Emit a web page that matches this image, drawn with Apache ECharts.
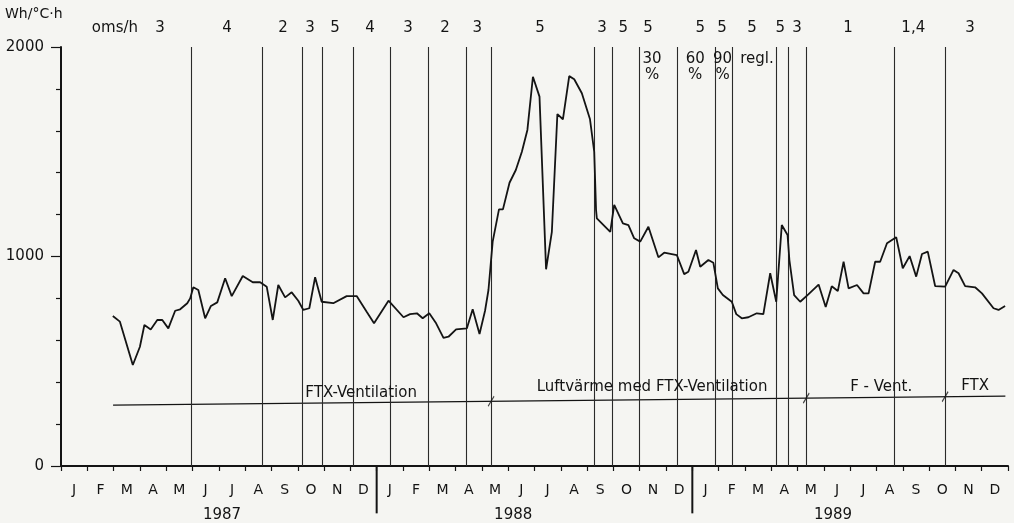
<!DOCTYPE html>
<html>
<head>
<meta charset="utf-8">
<title>Wh/°C·h 1987–1989</title>
<script src="https://cdn.jsdelivr.net/npm/echarts@6/dist/echarts.min.js"></script>
<style>
  html, body { margin: 0; padding: 0; background: #f5f5f2; }
  #chart { width: 1014px; height: 523px; }
</style>
</head>
<body>
<div id="chart"></div>
<script>
// Time axis runs in months from Jan 1987 (0) to end of Dec 1989 (36).
const monthLetters = ['J', 'F', 'M', 'A', 'M', 'J', 'J', 'A', 'S', 'O', 'N', 'D'];
const years = ['1987', '1988', '1989'];
const yearLabelMonths = [6.12, 17.19, 29.35];
const yearDividerMonths = [12, 24];

// Specific heat loss, Wh/°C·h, roughly weekly readings
const readingMonths = [
  1.97, 2.24, 2.73, 3.00, 3.17, 3.41, 3.66, 3.85, 4.08, 4.34,
  4.53, 4.80, 4.91, 5.03, 5.22, 5.48, 5.70, 5.94, 6.24, 6.49,
  6.91, 7.29, 7.57, 7.82, 8.05, 8.26, 8.52, 8.77, 9.02, 9.21,
  9.44, 9.66, 9.91, 10.35, 10.86, 11.24, 11.62, 11.90, 12.45, 13.02,
  13.27, 13.53, 13.75, 14.00, 14.26, 14.54, 14.73, 15.02, 15.43, 15.65,
  15.91, 16.12, 16.25, 16.41, 16.65, 16.80, 17.05, 17.29, 17.52, 17.73,
  17.94, 18.19, 18.44, 18.66, 18.87, 19.08, 19.32, 19.51, 19.80, 20.11,
  20.27, 20.34, 20.37, 20.88, 21.03, 21.36, 21.57, 21.79, 22.02, 22.33,
  22.71, 22.93, 23.41, 23.69, 23.85, 24.14, 24.30, 24.61, 24.80, 24.97,
  25.16, 25.50, 25.67, 25.88, 26.13, 26.45, 26.70, 26.96, 27.19, 27.40,
  27.62, 27.69, 27.87, 28.10, 28.41, 28.80, 29.07, 29.30, 29.53, 29.75,
  29.94, 30.26, 30.51, 30.70, 30.95, 31.14, 31.40, 31.75, 32.00, 32.26,
  32.51, 32.73, 32.95, 33.23, 33.61, 33.93, 34.12, 34.37, 34.75, 35.01,
  35.45, 35.64, 35.89
];
const readingValues = [
  716, 689, 482, 569, 673, 652, 697, 697, 657, 741,
  748, 777, 800, 853, 840, 705, 764, 781, 896, 811,
  907, 877, 877, 856, 697, 864, 805, 829, 789, 745,
  753, 901, 784, 777, 811, 811, 736, 681, 789, 710,
  725, 729, 705, 729, 681, 612, 617, 652, 657, 748,
  630, 741, 840, 1071, 1225, 1225, 1352, 1413, 1500, 1604,
  1858, 1763, 939, 1118, 1680, 1655, 1861, 1846, 1779, 1655,
  1500, 1222, 1182, 1118, 1246, 1158, 1150, 1087, 1071, 1142,
  996, 1018, 1007, 916, 927, 1031, 951, 983, 970, 848,
  816, 784, 725, 705, 710, 729, 725, 920, 784, 1150,
  1103, 983, 816, 784, 819, 866, 759, 858, 835, 975,
  848, 864, 824, 824, 975, 975, 1063, 1092, 944, 1002,
  904, 1012, 1023, 859, 856, 936, 920, 859, 853, 824,
  753, 745, 764
];

// Moments where the air-change rate was changed
const changeMonths = [
  4.94, 7.64, 9.16, 9.92, 11.10, 12.51, 13.95, 15.40, 16.35, 20.27,
  20.95, 21.98, 23.42, 24.87, 25.51, 27.19, 27.64, 28.33, 31.67, 33.61
];

// Air changes per hour (oms/h) for each period
const rateLabels = ['oms/h', '3', '4', '2', '3', '5', '4', '3', '2', '3', '5',
  '3', '5', '5', '5', '5', '5', '5', '3', '1', '1,4', '3'];
const rateLabelMonths = [2.05, 3.76, 6.31, 8.44, 9.47, 10.42, 11.75, 13.19, 14.60, 15.82, 18.21,
  20.57, 21.37, 22.32, 24.30, 25.13, 26.27, 27.34, 27.98, 29.92, 32.40, 34.56];

// Control notes under the rates
const noteLabels = ['30', '%', '60', '%', '90', '%', 'regl.'];
const noteMonths = [22.47, 22.47, 24.11, 24.11, 25.15, 25.15, 26.46];
const noteValues = [1940, 1866, 1940, 1866, 1940, 1866, 1940];

// Ventilation system periods along the baseline
const systemLabels = ['FTX-Ventilation', 'Luftvärme med FTX-Ventilation', 'F - Vent.', 'FTX'];
const systemLabelMonths = [11.41, 22.47, 31.18, 34.75];
const systemLabelValues = [348, 377, 377, 380];
const systemLineMonths = [1.98, 35.9];
const systemLineValues = [291, 334];
const systemSwitchMonths = [16.35, 28.33, 33.61];

const ink = '#141414';
const font = 'DejaVu Sans';

function baselineAt(m) {
  const t = (m - systemLineMonths[0]) / (systemLineMonths[1] - systemLineMonths[0]);
  return systemLineValues[0] + t * (systemLineValues[1] - systemLineValues[0]);
}

const monthCategories = [];
years.forEach(() => monthLetters.forEach(l => monthCategories.push(l)));

const textPoints = [];
rateLabels.forEach((t, i) => textPoints.push({ value: [rateLabelMonths[i], 2091], name: t }));
noteLabels.forEach((t, i) => textPoints.push({ value: [noteMonths[i], noteValues[i]], name: t }));
systemLabels.forEach((t, i) => textPoints.push({ value: [systemLabelMonths[i], systemLabelValues[i]], name: t }));
years.forEach((t, i) => textPoints.push({ value: [yearLabelMonths[i], -236], name: t }));

const dividerSeries = yearDividerMonths.map(m => ({
  type: 'line',
  data: [[m, 0], [m, -226]],
  symbol: 'none',
  clip: false,
  silent: true,
  lineStyle: { color: ink, width: 2 },
  z: 3
}));

const chart = echarts.init(document.getElementById('chart'), null, { renderer: 'canvas' });

chart.setOption({
  backgroundColor: '#f5f5f2',
  animation: false,
  color: [ink],
  textStyle: { fontFamily: font, color: ink },
  grid: { left: 61, right: 6, top: 47, bottom: 57 },
  graphic: [{
    type: 'text', left: 5, top: 7,
    style: { text: 'Wh/°C·h', fontFamily: font, fontSize: 14, fill: ink }
  }],
  xAxis: [{
    type: 'value', min: 0, max: 36, interval: 1,
    axisLine: { show: true, lineStyle: { color: ink, width: 2 } },
    axisTick: { show: true, length: 5, lineStyle: { color: ink, width: 1.2 } },
    axisLabel: { show: false },
    splitLine: { show: false }
  }, {
    type: 'category', data: monthCategories, position: 'bottom', boundaryGap: true,
    axisLine: { show: false }, axisTick: { show: false },
    axisLabel: { fontFamily: font, fontSize: 14, color: ink, margin: 17, interval: 0 },
    splitLine: { show: false }
  }],
  yAxis: {
    type: 'value', min: 0, max: 2000, interval: 1000,
    axisLine: { show: true, lineStyle: { color: ink, width: 2 } },
    axisTick: { show: true, length: 10, lineStyle: { color: ink, width: 1.2 } },
    minorTick: { show: true, splitNumber: 5, length: 5, lineStyle: { color: ink, width: 1.2 } },
    axisLabel: { fontFamily: font, fontSize: 15, color: ink, margin: 17, formatter: v => String(v) },
    splitLine: { show: false },
    minorSplitLine: { show: false }
  },
  series: [{
    name: 'Wh/°C·h',
    type: 'line',
    data: readingMonths.map((m, i) => [m, readingValues[i]]),
    symbol: 'none',
    lineStyle: { color: ink, width: 1.8 },
    z: 5,
    markLine: {
      silent: true,
      symbol: 'none',
      label: { show: false },
      lineStyle: { color: '#2a2a2a', width: 1.1, type: 'solid' },
      data: changeMonths.map(m => ({ xAxis: m }))
    }
  }, {
    type: 'line',
    data: systemLineMonths.map((m, i) => [m, systemLineValues[i]]),
    symbol: 'none',
    silent: true,
    lineStyle: { color: ink, width: 1.3 },
    z: 4
  }, {
    type: 'scatter',
    data: systemSwitchMonths.map(m => [m, baselineAt(m)]),
    symbol: 'path://M0,10L6,0',
    symbolSize: [6, 10],
    silent: true,
    itemStyle: { color: 'rgba(0,0,0,0)', borderColor: ink, borderWidth: 1.3 },
    z: 6
  }, {
    type: 'scatter',
    data: textPoints,
    symbolSize: 0,
    clip: false,
    silent: true,
    itemStyle: { color: ink, opacity: 1 },
    label: {
      show: true, position: 'inside',
      formatter: p => p.name,
      fontFamily: font, fontSize: 15, color: ink,
      textBorderWidth: 0, opacity: 1
    },
    z: 7
  }].concat(dividerSeries)
});
</script>
</body>
</html>
